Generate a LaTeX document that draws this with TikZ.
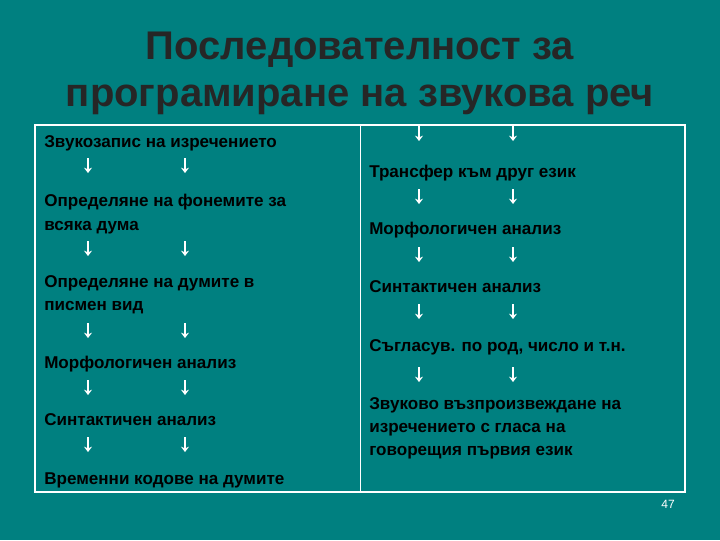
\documentclass[tikz,border=0pt]{standalone}
\usepackage{fontspec}
\setmainfont{Liberation Sans}
\usetikzlibrary{arrows.meta}
\begin{document}
\begin{tikzpicture}[x=0.75pt,y=-0.75pt,
  txt/.style={anchor=base west,inner sep=0pt,font=\bfseries\fontsize{12.8}{16}\selectfont,text=black},
  ttl/.style={anchor=base,inner sep=0pt,font=\bfseries\fontsize{30}{34}\selectfont,text=black!85},
  arr/.style={white,line width=1pt,-{Stealth[length=4pt,width=6pt]}}]
\fill[fill={rgb,255:red,0;green,128;blue,128}] (0,0) rectangle (720,540);
\useasboundingbox (0,0) rectangle (720,540);
\node[ttl] (t1) at (360,59) {Последователност за};
\node[ttl] (t2) at (360,106) {програмиране на звукова реч};
\draw[white,line width=1pt] (35,125) rectangle (685,492);
\draw[white,line width=0.6pt] (360,125) -- (360,492);
% left column
\node[txt] (l1) at (44,147) {Звукозапис на изречението};
\node[txt] (l2) at (44,206) {Определяне на фонемите за};
\node[txt] (l2b) at (44,230) {всяка дума};
\node[txt] (l3) at (44,287) {Определяне на думите в};
\node[txt] (l3b) at (44,310) {писмен вид};
\node[txt] (l4) at (44,368) {Морфологичен анализ};
\node[txt] (l5) at (44,425) {Синтактичен анализ};
\node[txt] (l6) at (44,484) {Временни кодове на думите};
\foreach \y in {165,248,330,387,444}{
  \coordinate (a\y) at (88,\y-7); \coordinate (b\y) at (88,\y+8);
  \coordinate (c\y) at (185,\y-7); \coordinate (d\y) at (185,\y+8);
  \draw[arr] (a\y) -- (b\y); \draw[arr] (c\y) -- (d\y);}
% right column
\node[txt] (r1) at (369,177) {Трансфер към друг език};
\node[txt] (r2) at (369,234) {Морфологичен анализ};
\node[txt] (r3) at (369,292) {Синтактичен анализ};
\node[txt] (r4) at (369,351) {Съгласув. по род, число и т.н.};
\node[txt] (r5) at (369,409) {Звуково възпроизвеждане на};
\node[txt] (r5b) at (369,432) {изречението с гласа на};
\node[txt] (r5c) at (369,455) {говорещия първия език};
\foreach \y in {133,196,254,311,374}{
  \coordinate (e\y) at (419,\y-7); \coordinate (f\y) at (419,\y+8);
  \coordinate (g\y) at (513,\y-7); \coordinate (h\y) at (513,\y+8);
  \draw[arr] (e\y) -- (f\y); \draw[arr] (g\y) -- (h\y);}
\node[anchor=base,inner sep=0pt,text=white,font=\fontsize{9}{10}\selectfont] (pg) at (668,508) {47};
\end{tikzpicture}
\end{document}
